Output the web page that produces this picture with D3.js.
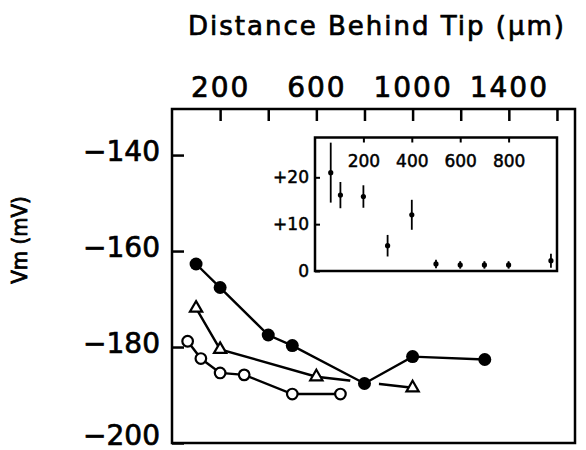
<!DOCTYPE html>
<html>
<head>
<meta charset="utf-8">
<script src="https://cdn.jsdelivr.net/npm/d3@7"></script>
<style>
  body { margin: 0; background: #fff; }
  svg { display: block; font-family: "DejaVu Sans", sans-serif; }
</style>
</head>
<body>
<svg id="chart"></svg>
<script>
// main panel: Vm vs distance behind tip, three cells
const filledX = [100, 200, 400, 500, 800, 1000, 1300];
const filledY = [-162.7, -167.6, -177.5, -179.7, -187.6, -182.0, -182.6];
const triX = [100, 200, 600, 1000];
const triY = [-171.9, -180.5, -186.2, -188.5];
const openX = [65, 120, 200, 300, 500, 700];
const openY = [-178.8, -182.4, -185.4, -185.8, -189.8, -189.8];

// inset: mean +/- error
const insetX = [65, 105, 200, 300, 400, 500, 600, 700, 800, 975];
const insetY = [21.0, 16.2, 15.9, 5.4, 12.0, 1.5, 1.3, 1.3, 1.3, 2.2];
const insetErr = [6.4, 2.8, 2.4, 2.3, 3.2, 0.9, 0.8, 0.8, 0.8, 1.5];

const xTicks = [200, 400, 600, 800, 1000, 1200, 1400, 1600];
const xTickLabels = [200, 600, 1000, 1400];
const yTicks = [-200, -180, -160, -140];
const insetXTicks = [200, 400, 600, 800];
const insetYTicks = [0, 10, 20];

const width = 586;
const height = 450;
const box = { left: 172, right: 575, top: 109, bottom: 443 };
const inset = { left: 315, right: 557, top: 137.5, bottom: 271 };

const svg = d3.select("#chart").attr("width", width).attr("height", height);

const xscale = d3.scaleLinear().domain([0, 1675]).range([box.left, box.right]);
const yscale = d3.scaleLinear().domain([-200, -130.4]).range([box.bottom, box.top]);
const ixscale = d3.scaleLinear().domain([0, 1000]).range([inset.left, inset.right]);
const iyscale = d3.scaleLinear().domain([0, 28.5]).range([inset.bottom, inset.top]);

function styleAxis(g, size, spacing, weight) {
  g.select(".domain").remove();
  g.selectAll(".tick line").attr("stroke", "#000").attr("stroke-width", 2.5);
  g.selectAll(".tick text")
    .attr("fill", "#000")
    .attr("stroke", "#000")
    .attr("stroke-width", weight)
    .style("font-family", "DejaVu Sans, sans-serif")
    .style("font-size", size + "px")
    .style("letter-spacing", spacing + "px");
}

// main axes
const xaxis = d3
  .axisTop(xscale)
  .tickValues(xTicks)
  .tickSize(-12)
  .tickPadding(12)
  .tickFormat((d) => (xTickLabels.includes(d) ? d : ""));
svg.append("g")
  .attr("transform", `translate(0, ${box.top})`)
  .call(xaxis)
  .call((g) => styleAxis(g, 28, 2, 0.7));

const yaxis = d3
  .axisLeft(yscale)
  .tickValues(yTicks)
  .tickSize(-12)
  .tickPadding(12)
  .tickFormat((d) => "\u2212" + Math.abs(d));
svg.append("g")
  .attr("transform", `translate(${box.left}, 0)`)
  .call(yaxis)
  .call((g) => styleAxis(g, 28, 0, 0.7))
  .call((g) => g.selectAll(".tick text").attr("dy", (d) => (d === -200 ? "0.06em" : "0.2em")));

svg.append("rect")
  .attr("x", box.left)
  .attr("y", box.top)
  .attr("width", box.right - box.left)
  .attr("height", box.bottom - box.top)
  .attr("fill", "none")
  .attr("stroke", "#000")
  .attr("stroke-width", 2.5);

// titles
svg.append("text")
  .attr("x", 377)
  .attr("y", 35)
  .attr("text-anchor", "middle")
  .attr("stroke", "#000")
  .attr("stroke-width", 0.7)
  .style("font-size", "26px")
  .style("letter-spacing", "2px")
  .text("Distance Behind Tip (\u00b5m)");

svg.append("text")
  .attr("transform", "translate(27, 240) rotate(-90)")
  .attr("text-anchor", "middle")
  .attr("stroke", "#000")
  .attr("stroke-width", 0.8)
  .style("font-family", "DejaVu Sans Condensed, DejaVu Sans, sans-serif")
  .style("font-stretch", "condensed")
  .style("font-size", "22px")
  .text("Vm (mV)");

// inset
const ig = svg.append("g");
ig.append("rect")
  .attr("x", inset.left)
  .attr("y", inset.top)
  .attr("width", inset.right - inset.left)
  .attr("height", inset.bottom - inset.top)
  .attr("fill", "#fff")
  .attr("stroke", "#000")
  .attr("stroke-width", 2.5);

const ixaxis = d3
  .axisBottom(ixscale)
  .tickValues(insetXTicks)
  .tickSize(5)
  .tickPadding(12);
ig.append("g")
  .attr("transform", `translate(0, ${inset.top})`)
  .call(ixaxis)
  .call((g) => styleAxis(g, 17, 0, 0.5))
  .call((g) => g.selectAll(".tick line").attr("stroke-width", 2));

const iyaxis = d3
  .axisLeft(iyscale)
  .tickValues(insetYTicks)
  .tickSize(-5)
  .tickPadding(6)
  .tickFormat((d) => (d > 0 ? "+" + d : d));
ig.append("g")
  .attr("transform", `translate(${inset.left}, 0)`)
  .call(iyaxis)
  .call((g) => styleAxis(g, 17, 0, 0.5))
  .call((g) => g.selectAll(".tick line").attr("stroke-width", 2));

const insetData = insetX.map((x, i) => ({ x: x, y: insetY[i], e: insetErr[i] }));
ig.selectAll(".err")
  .data(insetData)
  .join("line")
  .attr("class", "err")
  .attr("x1", (d) => ixscale(d.x))
  .attr("x2", (d) => ixscale(d.x))
  .attr("y1", (d) => iyscale(d.y + d.e))
  .attr("y2", (d) => iyscale(d.y - d.e))
  .attr("stroke", "#000")
  .attr("stroke-width", 1.8);
ig.selectAll(".mean")
  .data(insetData)
  .join("circle")
  .attr("class", "mean")
  .attr("cx", (d) => ixscale(d.x))
  .attr("cy", (d) => iyscale(d.y))
  .attr("r", 2.6)
  .attr("fill", "#000");

// main series
const pts = (xs, ys) => xs.map((x, i) => [xscale(x), yscale(ys[i])]);
const filled = pts(filledX, filledY);
const tri = pts(triX, triY);
const open = pts(openX, openY);

const line = d3.line();
function drawLine(p) {
  svg.append("path")
    .attr("d", line(p))
    .attr("fill", "none")
    .attr("stroke", "#000")
    .attr("stroke-width", 2.4);
}

drawLine(open);
drawLine(tri);

// white gap where the other lines pass behind the filled symbols
svg.append("g")
  .selectAll("circle")
  .data(filled)
  .join("circle")
  .attr("cx", (d) => d[0])
  .attr("cy", (d) => d[1])
  .attr("r", 7)
  .attr("fill", "#fff")
  .attr("stroke", "#fff")
  .attr("stroke-width", 15);

drawLine(filled);

svg.append("g")
  .selectAll("circle")
  .data(open)
  .join("circle")
  .attr("cx", (d) => d[0])
  .attr("cy", (d) => d[1])
  .attr("r", 5.3)
  .attr("fill", "#fff")
  .attr("stroke", "#000")
  .attr("stroke-width", 2.2);

svg.append("g")
  .selectAll("path")
  .data(tri)
  .join("path")
  .attr("transform", (d) => `translate(${d[0]}, ${d[1]})`)
  .attr("d", d3.symbol().type(d3.symbolTriangle).size(65))
  .attr("fill", "#fff")
  .attr("stroke", "#000")
  .attr("stroke-width", 2.2);

svg.append("g")
  .selectAll("circle")
  .data(filled)
  .join("circle")
  .attr("cx", (d) => d[0])
  .attr("cy", (d) => d[1])
  .attr("r", 6.5)
  .attr("fill", "#000");
</script>
</body>
</html>
